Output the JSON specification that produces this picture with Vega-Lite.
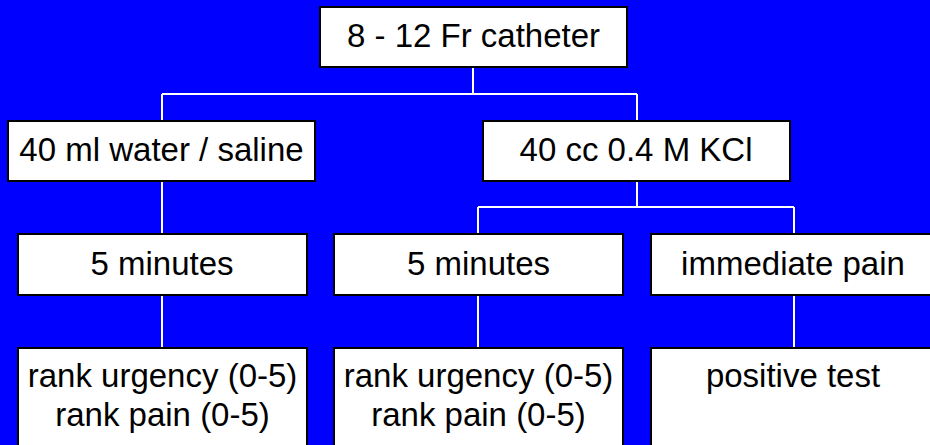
{
  "$schema": "https://vega.github.io/schema/vega-lite/v6.json",
  "width": 930,
  "height": 445,
  "padding": 0,
  "autosize": {"type": "none"},
  "background": "#0000ff",
  "config": {"view": {"stroke": null}},
  "datasets": {
    "boxes": [
      {"id": "b1", "x1": 320, "x2": 627, "y1": 7, "y2": 67},
      {"id": "b2", "x1": 8, "x2": 315, "y1": 121, "y2": 181},
      {"id": "b3", "x1": 483, "x2": 790, "y1": 121, "y2": 181},
      {"id": "b4", "x1": 18, "x2": 307, "y1": 234, "y2": 295},
      {"id": "b5", "x1": 334, "x2": 623, "y1": 234, "y2": 295},
      {"id": "b6", "x1": 651, "x2": 936, "y1": 234, "y2": 295},
      {"id": "b7", "x1": 18, "x2": 307, "y1": 348, "y2": 452},
      {"id": "b8", "x1": 334, "x2": 623, "y1": 348, "y2": 452},
      {"id": "b9", "x1": 651, "x2": 936, "y1": 348, "y2": 452}
    ],
    "lines": [
      {"x1": 473, "y1": 67, "x2": 473, "y2": 94},
      {"x1": 162, "y1": 94, "x2": 637, "y2": 94},
      {"x1": 162, "y1": 94, "x2": 162, "y2": 348},
      {"x1": 637, "y1": 94, "x2": 637, "y2": 207},
      {"x1": 478, "y1": 207, "x2": 794, "y2": 207},
      {"x1": 478, "y1": 207, "x2": 478, "y2": 348},
      {"x1": 794, "y1": 207, "x2": 794, "y2": 348}
    ],
    "labels": [
      {"label": "8 - 12 Fr catheter", "cx": 473.5, "by": 47},
      {"label": "40 ml water / saline", "cx": 161.5, "by": 161},
      {"label": "40 cc 0.4 M KCl", "cx": 636, "by": 161},
      {"label": "5 minutes", "cx": 162, "by": 275},
      {"label": "5 minutes", "cx": 478.5, "by": 275},
      {"label": "immediate pain", "cx": 793, "by": 275},
      {"label": "rank urgency (0-5)\nrank pain (0-5)", "cx": 162.5, "by": 387},
      {"label": "rank urgency (0-5)\nrank pain (0-5)", "cx": 478.5, "by": 387},
      {"label": "positive test", "cx": 793, "by": 387}
    ]
  },
  "layer": [
    {
      "data": {"name": "lines"},
      "mark": {"type": "rule", "color": "#ffffff", "strokeWidth": 2, "clip": true},
      "encoding": {
        "x": {"field": "x1", "type": "quantitative", "scale": {"domain": [0, 930], "nice": false, "zero": false}, "axis": null},
        "x2": {"field": "x2"},
        "y": {"field": "y1", "type": "quantitative", "scale": {"domain": [0, 445], "nice": false, "zero": false, "reverse": true}, "axis": null},
        "y2": {"field": "y2"}
      }
    },
    {
      "data": {"name": "boxes"},
      "mark": {"type": "rect", "fill": "#ffffff", "stroke": "#000000", "strokeWidth": 2, "clip": true},
      "encoding": {
        "x": {"field": "x1", "type": "quantitative"},
        "x2": {"field": "x2"},
        "y": {"field": "y1", "type": "quantitative"},
        "y2": {"field": "y2"}
      }
    },
    {
      "data": {"name": "labels"},
      "mark": {"type": "text", "font": "Liberation Sans", "fontSize": 33, "color": "#000000", "align": "center", "baseline": "alphabetic", "lineBreak": "\n", "lineHeight": 39},
      "encoding": {
        "x": {"field": "cx", "type": "quantitative"},
        "y": {"field": "by", "type": "quantitative"},
        "text": {"field": "label"}
      }
    }
  ]
}
